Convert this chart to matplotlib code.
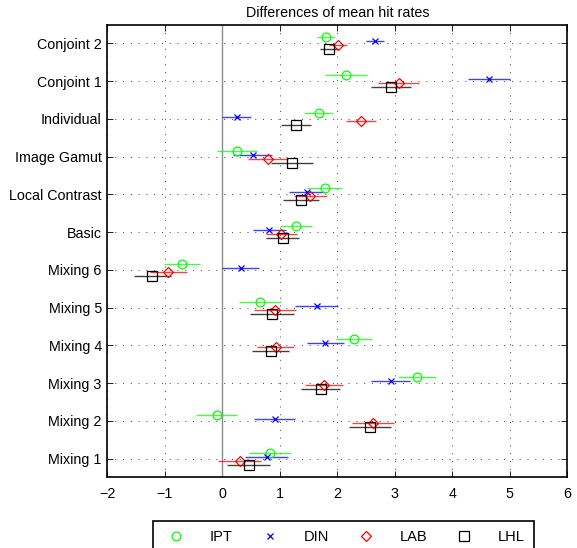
import matplotlib
matplotlib.use("Agg")
import matplotlib.pyplot as plt

plt.rcParams["font.family"] = ["Liberation Sans", "DejaVu Sans"]
plt.rcParams["font.size"] = 10.3

# categories, top to bottom
categories = ["Conjoint 2", "Conjoint 1", "Individual", "Image Gamut", "Local Contrast",
              "Basic", "Mixing 6", "Mixing 5", "Mixing 4", "Mixing 3", "Mixing 2", "Mixing 1"]

ipt_mean = [1.80, 2.15, 1.68, 0.25, 1.78, 1.28, -0.70, 0.66, 2.29, 3.39, -0.10, 0.83]
ipt_half = [0.16, 0.36, 0.25, 0.35, 0.31, 0.28, 0.32, 0.37, 0.32, 0.33, 0.36, 0.37]

din_mean = [2.66, 4.64, 0.25, 0.53, 1.47, 0.82, 0.32, 1.64, 1.79, 2.93, 0.91, 0.77]
din_half = [0.155, 0.36, 0.25, 0.34, 0.31, 0.28, 0.32, 0.38, 0.32, 0.34, 0.36, 0.37]

lab_mean = [2.01, 3.07, 2.41, 0.80, 1.53, 1.03, -0.94, 0.92, 0.93, 1.77, 2.62, 0.30]
lab_half = [0.16, 0.36, 0.26, 0.35, 0.29, 0.27, 0.32, 0.37, 0.32, 0.33, 0.36, 0.37]

lhl_mean = [1.86, 2.93, 1.28, 1.21, 1.37, 1.05, -1.22, 0.87, 0.84, 1.71, 2.57, 0.46]
lhl_half = [0.16, 0.35, 0.26, 0.36, 0.31, 0.29, 0.32, 0.38, 0.32, 0.34, 0.36, 0.37]

series = [
    ("IPT", ipt_mean, ipt_half, (0, 1, 0), "o", 6.3, -0.16),
    ("DIN", din_mean, din_half, (0, 0, 1), "x", 4.5, -0.055),
    ("LAB", lab_mean, lab_half, (1, 0, 0), "D", 5.0, 0.055),
    ("LHL", lhl_mean, lhl_half, (0, 0, 0), "s", 6.5, 0.16),
]

fig = plt.figure(figsize=(5.77, 5.48), dpi=100)
ax = fig.add_axes([0.186, 0.1287, 0.797, 0.8253])

ax.axvline(0, color="0.55", lw=1.0, zorder=1)

pos = list(range(len(categories)))
for name, mean, half, col, mk, ms, off in series:
    y = [p + off for p in pos]
    ax.errorbar(mean, y, xerr=half, fmt="none", ecolor=col, elinewidth=1.0,
                capsize=0, alpha=0.75, zorder=2)
    ax.plot(mean, y, linestyle="none", marker=mk, markersize=ms, mfc="none",
            mec=col, mew=0.9, label=name, zorder=3)

ax.set_xlim(-2, 6)
ax.set_ylim(len(categories) - 0.5, -0.48)
ax.set_xticks(range(-2, 7))
ax.set_yticks(pos)
ax.set_yticklabels(categories)

ax.grid(True, color="0.25", linestyle=(0, (1, 7)), linewidth=0.7)
ax.set_axisbelow(True)
ax.tick_params(direction="in", length=4, width=0.6, top=True, right=True)
ax.tick_params(axis="y", pad=4)
ax.tick_params(axis="x", pad=7)
for sp in ax.spines.values():
    sp.set_linewidth(1.2)

ax.set_title("Differences of mean hit rates", fontsize=10.3, pad=6)

leg = fig.legend(loc="upper center", bbox_to_anchor=(0.595, 0.0495), ncol=4,
                 frameon=True, fancybox=False, edgecolor="black", framealpha=1,
                 handlelength=2.0, handletextpad=1.3, columnspacing=1.55,
                 borderpad=0.6, borderaxespad=0, fontsize=10.5)
leg.get_frame().set_linewidth(1.2)

fig.savefig("out.png", dpi=100)
